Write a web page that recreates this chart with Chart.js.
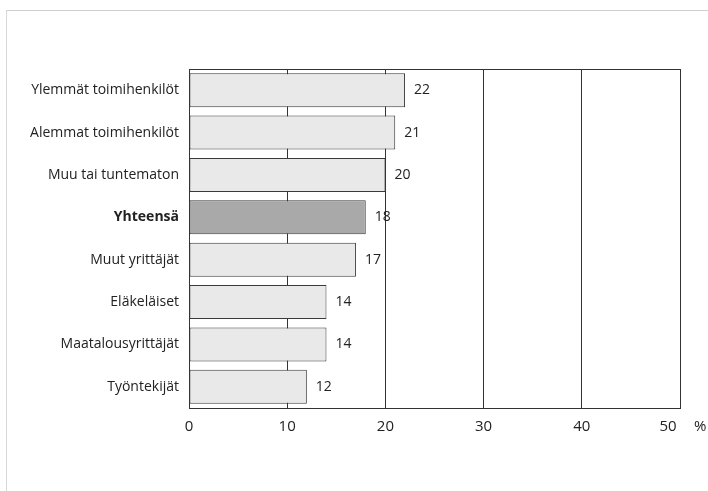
<!DOCTYPE html>
<html>
<head>
<meta charset="utf-8">
<script src="https://cdn.jsdelivr.net/npm/chart.js@4"></script>
<style>
  html, body { margin: 0; padding: 0; background: #fff; }
  #wrap { position: relative; width: 708px; height: 491px; }
  #frame { position: absolute; left: 6px; top: 10px; right: 0; bottom: 0;
           border-top: 1px solid #cfcfcf; border-left: 1px solid #d8d8d8; }
  canvas { position: absolute; left: 0; top: 0; }
</style>
</head>
<body>
<div id="wrap">
  <div id="frame"></div>
  <canvas id="chart" width="708" height="491"></canvas>
</div>
<script>
const categories = ['Ylemmät toimihenkilöt', 'Alemmat toimihenkilöt', 'Muu tai tuntematon', 'Yhteensä',
                    'Muut yrittäjät', 'Eläkeläiset', 'Maatalousyrittäjät', 'Työntekijät'];
const values = [22, 21, 20, 18, 17, 14, 14, 12];
const xTicks = [0, 10, 20, 30, 40, 50];
const totalLabel = 'Yhteensä';

const FONT = "'Open Sans', sans-serif";
const lineColor = '#333';
const lastTick = xTicks[xTicks.length - 1];

// arvot palkkien päähän, yläreuna, viimeinen tikki ja %-merkki
const extras = {
  id: 'extras',
  afterDatasetsDraw(chart) {
    const { ctx, chartArea, scales } = chart;
    ctx.save();
    ctx.strokeStyle = lineColor;
    ctx.lineWidth = 1;
    ctx.beginPath();
    ctx.moveTo(chartArea.left, chartArea.top + 0.5);
    ctx.lineTo(chartArea.right, chartArea.top + 0.5);
    ctx.stroke();

    ctx.fillStyle = '#222';
    ctx.font = '14px ' + FONT;
    ctx.textBaseline = 'middle';
    ctx.textAlign = 'left';
    chart.getDatasetMeta(0).data.forEach((bar, i) => {
      ctx.fillText(String(values[i]), bar.x + 9, bar.y);
    });

    const xEnd = scales.x.getPixelForValue(lastTick);
    const yLab = scales.x.top + 19;
    ctx.font = '15px ' + FONT;
    ctx.textAlign = 'center';
    ctx.fillText(String(lastTick), xEnd - 12, yLab);
    ctx.textAlign = 'left';
    ctx.fillText('%', xEnd + 14, yLab);
    ctx.restore();
  }
};

new Chart(document.getElementById('chart'), {
  type: 'bar',
  data: {
    labels: categories,
    datasets: [{
      data: values,
      backgroundColor: categories.map(c => c === totalLabel ? '#a9a9a9' : '#e9e9e9'),
      borderColor: '#3a3a3a',
      borderWidth: 1,
      borderSkipped: false,
      categoryPercentage: 1,
      barPercentage: 0.8
    }]
  },
  options: {
    indexAxis: 'y',
    responsive: false,
    animation: false,
    layout: { padding: { top: 69, right: 28, left: 0, bottom: 0 } },
    plugins: { legend: { display: false }, tooltip: { enabled: false } },
    scales: {
      x: {
        min: 0, max: 50,
        afterBuildTicks: s => { s.ticks = xTicks.map(v => ({ value: v })); },
        afterFit: s => { s.height = 83; },
        grid: { color: lineColor, lineWidth: 1, drawTicks: false },
        border: { color: lineColor },
        ticks: {
          color: '#222', font: { family: FONT, size: 15 }, padding: 10, maxRotation: 0,
          callback: v => v === lastTick ? '' : String(v)
        }
      },
      y: {
        afterFit: s => { s.width = 189; },
        grid: { display: false },
        border: { color: lineColor },
        ticks: {
          color: '#222',
          padding: 2,
          font: c => ({ family: FONT, size: 14, weight: categories[c.index] === totalLabel ? 'bold' : 'normal' })
        }
      }
    }
  },
  plugins: [extras]
});
</script>
</body>
</html>
